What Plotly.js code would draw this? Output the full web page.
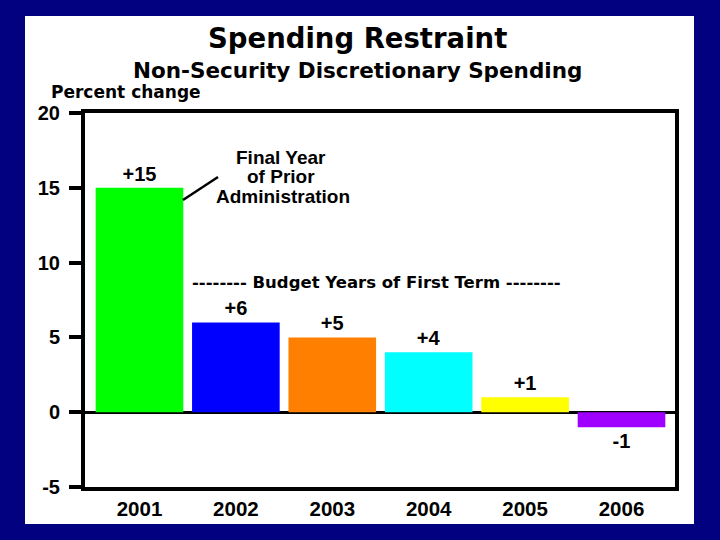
<!DOCTYPE html>
<html>
<head>
<meta charset="utf-8">
<script src="https://cdn.plot.ly/plotly-3.0.1.min.js"></script>
<style>html,body{margin:0;padding:0;background:#020280;}#chart{width:720px;height:540px;}</style>
</head>
<body>
<div id="chart"></div>
<script>
const years = ['2001', '2002', '2003', '2004', '2005', '2006'];
const changes = [15, 6, 5, 4, 1, -1];
const valueLabels = ['+15', '+6', '+5', '+4', '+1', '-1'];
const barColors = ['#00FF00', '#0000FF', '#FF8000', '#00FFFF', '#FFFF00', '#A000FF'];
const yTicks = [-5, 0, 5, 10, 15, 20];
const yTickLabels = ['-5', '0', '5', '10', '15', '20'];
const titleText = 'Spending Restraint';
const subtitleText = 'Non-Security Discretionary Spending';
const yLabelText = 'Percent change';
const priorLines = ['Final Year', 'of Prior', 'Administration'];
const termText = '-------- Budget Years of First Term --------';

const L = 85, R = 675, T = 113, B = 487;
const px = x => (x - L) / (R - L);
const py = y => (B - y) / (B - T);

const wide = {family: 'DejaVu Sans', weight: 'bold', color: 'black'};
const arial = {family: 'Liberation Sans, Arial', weight: 'bold', color: 'black'};

const trace = {
  type: 'bar',
  x: years,
  y: changes,
  marker: {color: barColors, line: {width: 0}},
  text: valueLabels,
  textposition: 'outside',
  textfont: Object.assign({size: 20}, arial),
  constraintext: 'none',
  cliponaxis: false,
  hoverinfo: 'none'
};

function ann(text, x, y, font, xanchor) {
  return {text: text, x: px(x), y: py(y), xref: 'paper', yref: 'paper',
          xanchor: xanchor || 'center', yanchor: 'middle', showarrow: false, font: font};
}

const annotations = [
  ann(titleText, 357.5, 38, Object.assign({size: 27.5}, wide)),
  ann(subtitleText, 357.5, 70.5, Object.assign({size: 21.5}, wide)),
  ann(yLabelText, 49, 92.5, Object.assign({size: 17}, wide), 'left'),
  ann(priorLines[0], 281, 157, Object.assign({size: 19}, arial)),
  ann(priorLines[1], 281, 176.5, Object.assign({size: 19}, arial)),
  ann(priorLines[2], 283, 196.5, Object.assign({size: 19}, arial)),
  ann(termText, 376.5, 282, Object.assign({size: 16.5}, wide))
];

const layout = {
  width: 720, height: 540,
  margin: {l: L, r: 720 - R, t: T, b: 540 - B, pad: 0},
  paper_bgcolor: '#020280',
  plot_bgcolor: 'white',
  showlegend: false,
  bargap: 0.091,
  xaxis: {
    type: 'category', range: [-0.565, 5.555],
    showline: true, mirror: true, linewidth: 4, linecolor: 'black',
    ticks: '', showgrid: false, zeroline: false, fixedrange: true,
    tickfont: Object.assign({size: 20.5}, arial)
  },
  yaxis: {
    range: [-5, 20], tickvals: yTicks, ticktext: yTickLabels,
    ticks: 'outside', ticklen: 12, tickwidth: 4, tickcolor: 'black',
    ticklabelstandoff: 5,
    showline: true, mirror: true, linewidth: 4, linecolor: 'black',
    showgrid: false, zeroline: true, zerolinewidth: 3, zerolinecolor: 'black',
    fixedrange: true,
    tickfont: Object.assign({size: 20}, arial)
  },
  shapes: [
    {type: 'rect', xref: 'paper', yref: 'paper', x0: px(25), x1: px(694), y0: py(524), y1: py(16),
     fillcolor: 'white', line: {width: 0}, layer: 'below'},
    {type: 'line', xref: 'paper', yref: 'paper', x0: px(183), y0: py(200), x1: px(218), y1: py(177),
     line: {color: 'black', width: 2.5}}
  ],
  annotations: annotations
};

Plotly.newPlot('chart', [trace], layout, {displayModeBar: false, staticPlot: true});
</script>
</body>
</html>
